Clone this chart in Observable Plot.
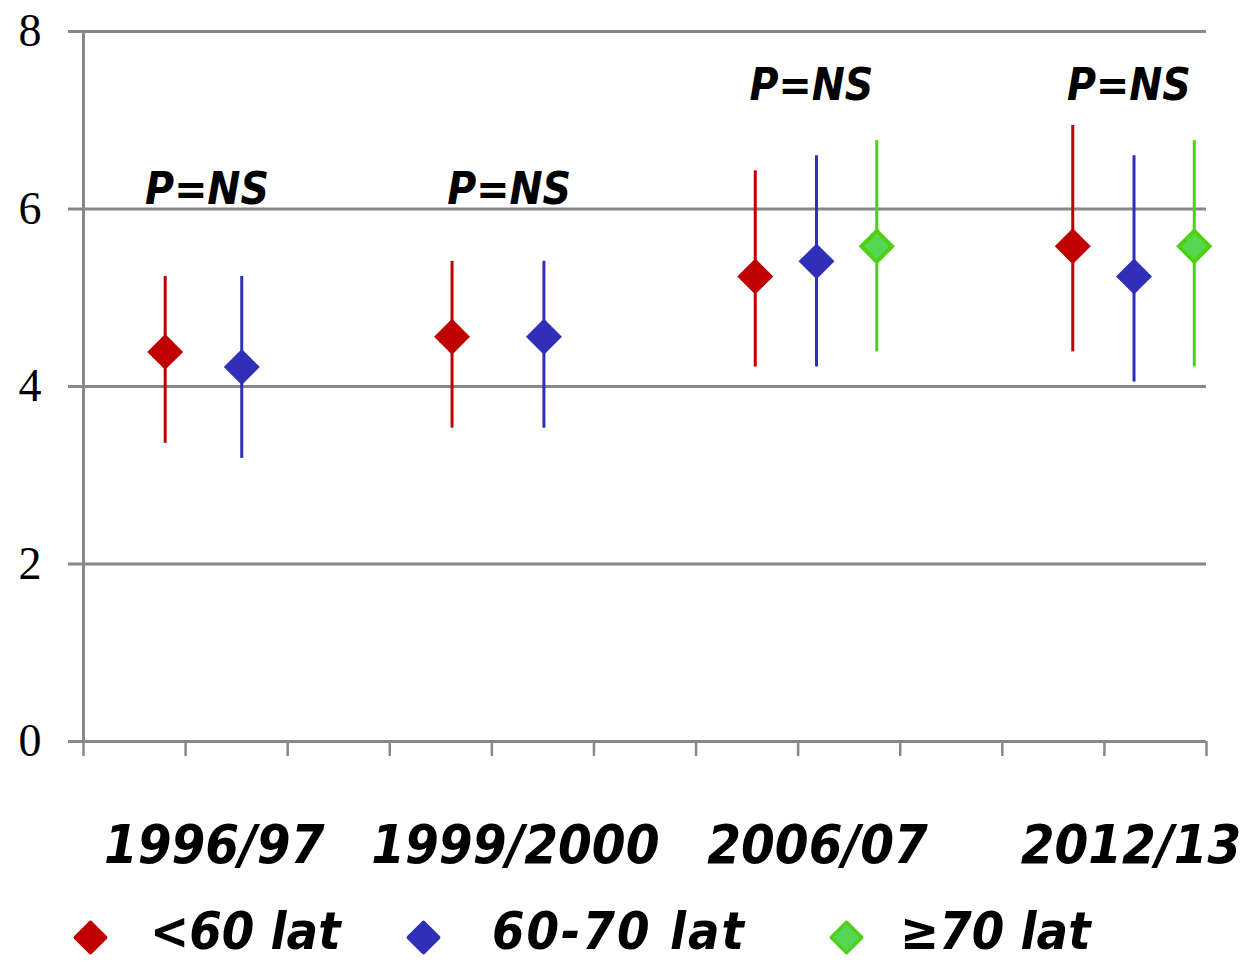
<!DOCTYPE html>
<html>
<head>
<meta charset="utf-8">
<script src="https://cdn.jsdelivr.net/npm/d3@7"></script>
<script src="https://cdn.jsdelivr.net/npm/@observablehq/plot@0.6"></script>
<style>
  html, body { margin: 0; padding: 0; background: white; }
  #wrap { position: relative; width: 1248px; height: 962px; overflow: hidden; }
  .sw { position: absolute; top: 925px; width: 25px; height: 25px; transform: rotate(45deg); box-sizing: border-box; border-radius: 2px; }
  .lt { position: absolute; top: 905px; font-family: "DejaVu Sans Condensed", "DejaVu Sans", sans-serif; font-weight: bold; font-style: italic; font-size: 52px; color: black; line-height: 52px; white-space: nowrap; }
</style>
</head>
<body>
<div id="wrap"></div>
<script>
// ---- data ----
const groups = ["1996/97", "1999/2000", "2006/07", "2012/13"];
const groupLabelPos = [1.28, 4.23, 7.19, 10.26];
const series = ["<60 lat", "60-70 lat", "≥70 lat"];
const seriesColor = ["#c00000", "#2f2fb9", "#4fd010"];
const seriesFill = ["#c00000", "#2f2fb9", "#55d655"];

const pointGroup  = [0, 0, 1, 1, 2, 2, 2, 3, 3, 3];
const pointSeries = [0, 1, 0, 1, 0, 1, 2, 0, 1, 2];
const pointPos    = [0.80, 1.55, 3.61, 4.51, 6.58, 7.18, 7.77, 9.69, 10.29, 10.88];
const means       = [4.39, 4.22, 4.56, 4.56, 5.24, 5.41, 5.58, 5.58, 5.24, 5.58];
const lower       = [3.36, 3.19, 3.53, 3.53, 4.22, 4.22, 4.39, 4.39, 4.05, 4.22];
const upper       = [5.24, 5.24, 5.41, 5.41, 6.43, 6.60, 6.77, 6.94, 6.60, 6.77];

const pLabels = ["P=NS", "P=NS", "P=NS", "P=NS"];
const pLabelPos = [1.21, 4.17, 7.13, 10.24];
const pLabelVal = [6.21, 6.21, 7.39, 7.39];

const yTicks = [0, 2, 4, 6, 8];
const xTicks = d3.range(0, 12);

// ---- build table ----
const pts = pointPos.map((p, i) => ({
  x: p, mean: means[i], lo: lower[i], hi: upper[i],
  series: series[pointSeries[i]], group: groups[pointGroup[i]]
}));

const fontComic = "'DejaVu Sans Condensed', 'DejaVu Sans', sans-serif";

const chart = Plot.plot({
  width: 1248,
  height: 890,
  marginTop: 31,
  marginBottom: 149,
  marginLeft: 83,
  marginRight: 42,
  style: {background: "white", overflow: "visible"},
  x: {domain: [0, 11], axis: null},
  y: {domain: [0, 8], axis: null},
  marks: [
    Plot.gridY(yTicks, {stroke: "#888", strokeOpacity: 1, strokeWidth: 3}),
    Plot.ruleX([0], {stroke: "#888", strokeWidth: 3}),
    Plot.axisY({ticks: yTicks, tickSize: 15, tickPadding: 27, stroke: "#888", strokeWidth: 3,
      fill: "black", fontSize: 46, fontFamily: "'Liberation Serif', 'Times New Roman', serif", label: null}),
    Plot.axisX({ticks: xTicks, tickSize: 15, tickFormat: () => "", stroke: "#888", strokeWidth: 2.5, label: null}),
    Plot.ruleX(pts, {x: "x", y1: "lo", y2: "hi", stroke: d => seriesColor[series.indexOf(d.series)], strokeWidth: 3}),
    Plot.dot(pts.filter(d => d.series !== series[2]), {x: "x", y: "mean", symbol: "diamond2", r: 16.2,
      fill: d => seriesFill[series.indexOf(d.series)], stroke: "none"}),
    Plot.dot(pts.filter(d => d.series === series[2]), {x: "x", y: "mean", symbol: "diamond2", r: 13.8,
      fill: seriesFill[2], stroke: seriesColor[2], strokeWidth: 4}),
    Plot.text(pLabels, {x: (d, i) => pLabelPos[i], y: (d, i) => pLabelVal[i], text: d => d,
      fontSize: 44, fontWeight: "bold", fontStyle: "italic", fontFamily: fontComic, fill: "black"}),
    Plot.text(groups, {x: (d, i) => groupLabelPos[i], y: 0, dy: 104, text: d => d,
      fontSize: 54, fontWeight: "bold", fontStyle: "italic", fontFamily: fontComic, fill: "black"})
  ]
});

const wrap = document.getElementById("wrap");
wrap.appendChild(chart);

// ---- legend ----
const swatchCenter = [90, 423, 846];
const textLeft = [150, 492, 900];
const textSpacing = [0, 2, 0];
series.forEach((s, i) => {
  const sw = document.createElement("div");
  sw.className = "sw";
  sw.style.left = (swatchCenter[i] - 12.5) + "px";
  sw.style.background = seriesFill[i];
  if (i === 2) sw.style.border = "3.5px solid " + seriesColor[2];
  const t = document.createElement("div");
  t.className = "lt";
  t.style.left = textLeft[i] + "px";
  t.style.letterSpacing = textSpacing[i] + "px";
  t.textContent = s;
  wrap.appendChild(sw);
  wrap.appendChild(t);
});
</script>
</body>
</html>
